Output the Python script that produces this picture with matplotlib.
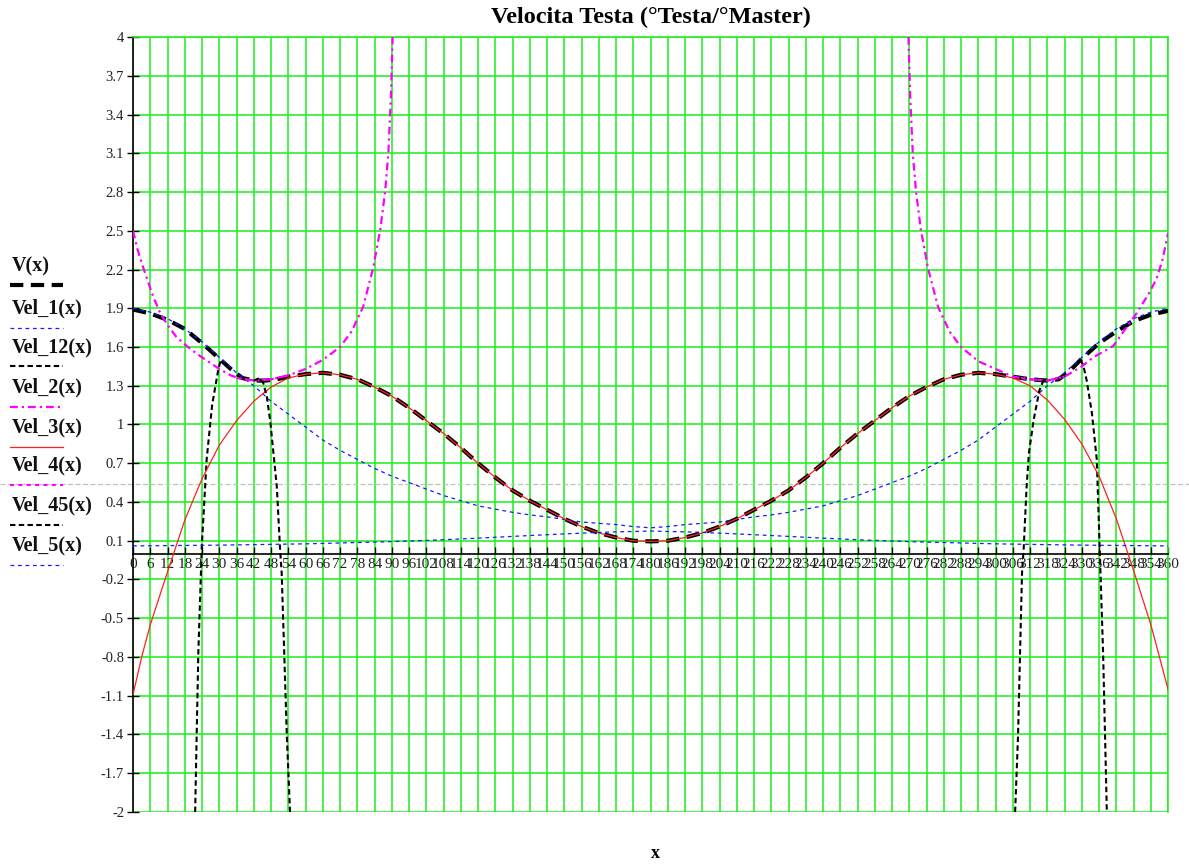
import numpy as np
import matplotlib
matplotlib.use("Agg")
import matplotlib.pyplot as plt
from matplotlib.lines import Line2D
import matplotlib.transforms as mtransforms

plt.rcParams['font.family'] = ['Liberation Serif', 'DejaVu Serif']

# ---- data ----
# V(x)
v_x = np.r_[[0, 6, 12, 18, 24, 30, 34, 38, 42, 46, 50, 54, 60], np.arange(66, 295, 6),
            [300, 306, 312, 318, 322, 326, 330, 336, 342, 348, 354, 360]]
v_y = [1.89, 1.86, 1.81, 1.74, 1.63, 1.51, 1.43, 1.36, 1.34, 1.34, 1.35, 1.37, 1.39,
       1.40, 1.385, 1.35, 1.29, 1.22, 1.13, 1.03, 0.93, 0.82, 0.70, 0.59, 0.49, 0.41, 0.34,
       0.27, 0.21, 0.16, 0.125, 0.10, 0.095,
       0.10, 0.125, 0.16, 0.21, 0.27, 0.34, 0.41, 0.49, 0.59, 0.70, 0.82, 0.93, 1.03, 1.13,
       1.22, 1.29, 1.35, 1.385, 1.40,
       1.39, 1.37, 1.35, 1.34, 1.35, 1.42, 1.51, 1.63, 1.72, 1.80, 1.85, 1.88]

# Vel_1(x)
vel1_x = np.arange(0, 361, 6)
vel1_y = [1.90, 1.87, 1.82, 1.74, 1.64, 1.52, 1.40, 1.30, 1.18, 1.08, 0.98, 0.88, 0.80,
          0.73, 0.66, 0.60, 0.55, 0.50, 0.45, 0.41, 0.37, 0.345, 0.32, 0.30, 0.285, 0.265,
          0.245, 0.235, 0.225, 0.21, 0.20,
          0.21, 0.225, 0.235, 0.245, 0.265, 0.285, 0.30, 0.32, 0.345, 0.37, 0.41, 0.45,
          0.50, 0.55, 0.60, 0.66, 0.73, 0.80, 0.88, 0.98, 1.08, 1.18, 1.30, 1.40, 1.52,
          1.64, 1.74, 1.82, 1.87, 1.90]

# Vel_12(x)
vel12_x = [21.6, 22.7, 23.9, 25.6, 27.5, 29.6, 30.5, np.nan,
           329.5, 330.5, 331.7, 333.5, 335.2, 336.2, 337.4, 338.7]
vel12_y = [-2.0, -0.77, 0.05, 0.73, 1.15, 1.42, 1.50, np.nan,
           1.50, 1.46, 1.34, 1.09, 0.73, 0.05, -0.77, -2.0]

# Vel_2(x)
vel2_x = [0, 1.5, 3, 5, 7, 9.5, 12, 15, 18, 22, 26, 30, 34, 38, 43, 48, 54, 60, 66, 72,
          76, 80, 83.5, 86, 87.7, 88.8, 89.7, 90.3, np.nan,
          269.7, 270.3, 271.2, 272.3, 274, 276.5, 280, 284, 288, 294, 300, 306, 312, 318,
          324, 330, 334, 338, 341, 344.5, 349, 353.5, 356, 358, 360]
vel2_y = [2.50, 2.36, 2.25, 2.12, 1.99, 1.86, 1.77, 1.68, 1.62, 1.55, 1.49, 1.43, 1.38,
          1.35, 1.34, 1.35, 1.38, 1.43, 1.50, 1.60, 1.72, 1.91, 2.21, 2.51, 2.81, 3.10,
          3.54, 4.0, np.nan,
          4.0, 3.54, 3.10, 2.81, 2.51, 2.21, 1.91, 1.72, 1.60, 1.49, 1.43, 1.37, 1.35,
          1.34, 1.37, 1.45, 1.52, 1.57, 1.61, 1.72, 1.86, 2.02, 2.13, 2.27, 2.48]

# Vel_3(x)
vel3_x = np.r_[[0, 3], np.arange(6, 355, 6), [357, 360]]
vel3_y = [-1.09, -0.80,
          -0.55, -0.14, 0.26, 0.58, 0.84, 1.03, 1.18, 1.29, 1.36, 1.39, 1.40, 1.385, 1.35,
          1.29, 1.22, 1.13, 1.03, 0.93, 0.82, 0.70, 0.59, 0.49, 0.41, 0.34, 0.27, 0.21,
          0.16, 0.125, 0.10, 0.095,
          0.10, 0.125, 0.16, 0.21, 0.27, 0.34, 0.41, 0.49, 0.59, 0.70, 0.82, 0.93, 1.03,
          1.13, 1.22, 1.29, 1.35, 1.385, 1.40, 1.39, 1.36, 1.30, 1.19, 1.04, 0.85, 0.60,
          0.27, -0.13, -0.55,
          -0.80, -1.05]

# Vel_4(x)
vel4_x = [36, 42, 48, 54, np.nan, 306, 312, 318, 324]
vel4_y = [1.36, 1.34, 1.35, 1.38, np.nan, 1.37, 1.35, 1.34, 1.37]

# Vel_45(x)
vel45_x = [42, 44, 45.3, 46.5, 47.7, 50, 51.1, 51.7, 53.5, 54.6, np.nan,
           306.8, 307.8, 309.2, 309.8, 310.8, 311.6, 313.2, 315.2, 316.6, 318]
vel45_y = [1.34, 1.36, 1.32, 1.22, 1.03, 0.52, 0.05, -0.15, -1.42, -2.0, np.nan,
           -2.0, -1.42, -0.15, 0.05, 0.52, 0.78, 1.03, 1.26, 1.34, 1.35]

# Vel_5(x)
vel5_x = [0, 30, 60, 90, 105, 120, 135, 150, 165, 180, 195, 210, 225, 240, 255, 270,
          300, 330, 360]
vel5_y = [0.060, 0.066, 0.076, 0.093, 0.105, 0.12, 0.137, 0.153, 0.167, 0.175, 0.167,
          0.153, 0.137, 0.12, 0.105, 0.093, 0.076, 0.066, 0.060]

x_ticks = np.arange(0, 361, 6)
y_ticks = [-2, -1.7, -1.4, -1.1, -0.8, -0.5, -0.2, 0.1, 0.4, 0.7, 1, 1.3, 1.6, 1.9,
           2.2, 2.5, 2.8, 3.1, 3.4, 3.7, 4]
marker_y = 0.54

labels = ["V(x)", "Vel_1(x)", "Vel_12(x)", "Vel_2(x)", "Vel_3(x)", "Vel_4(x)",
          "Vel_45(x)", "Vel_5(x)"]

# ---- styles ----
styles = [
    dict(color='black', lw=3.0, dashes=(3.2, 1.8)),
    dict(color='#1a1aff', lw=0.9, dashes=(3, 3)),
    dict(color='black', lw=1.5, dashes=(2.6, 1.6)),
    dict(color='#ff00ff', lw=1.6, dashes=(3.5, 1.8, 1, 1.8)),
    dict(color='#ff2020', lw=0.9),
    dict(color='#ff00ff', lw=1.5, dashes=(2, 2)),
    dict(color='black', lw=1.5, dashes=(2.6, 1.6)),
    dict(color='#1a1aff', lw=0.9, dashes=(3, 3)),
]
series = [(v_x, v_y), (vel1_x, vel1_y), (vel12_x, vel12_y), (vel2_x, vel2_y),
          (vel3_x, vel3_y), (vel4_x, vel4_y), (vel45_x, vel45_y), (vel5_x, vel5_y)]

fig = plt.figure(figsize=(11.89, 8.65), dpi=100)
ax = fig.add_axes([0.1119, 0.0613, 0.8705, 0.8959])

ax.set_xlim(0, 360)
ax.set_ylim(-2, 4)
ax.set_xticks(x_ticks)
ax.set_xticklabels([str(t) for t in x_ticks])
ax.set_yticks(y_ticks)
ax.set_yticklabels([f"{t:g}" for t in y_ticks])

ax.grid(True, color='#22ee22', lw=1.15)
ax.set_axisbelow(True)

ax.spines['bottom'].set_position(('data', 0))
ax.spines['bottom'].set_linewidth(1.2)
ax.spines['left'].set_linewidth(1.2)
for s in ('top', 'right'):
    ax.spines[s].set_color('#22ee22')
    ax.spines[s].set_linewidth(1.15)

ax.tick_params(axis='x', direction='in', length=5, width=1, pad=3, labelsize=11,
               labelcolor='#222222')
ax.tick_params(axis='y', direction='inout', length=9, width=1, pad=2, labelsize=10.5,
               labelcolor='#222222')

# draw V first, the rest on top
for (xs, ys), st in zip(series, styles):
    ax.plot(xs, ys, **st, zorder=3)

# grey marker line across the whole figure
trans = mtransforms.blended_transform_factory(fig.transFigure, ax.transData)
ax.plot([0, 1], [marker_y, marker_y], transform=trans, color='#c0c0c0', lw=0.9,
        dashes=(4, 2), clip_on=False, zorder=1)

# legend at left, drawn by hand like the original
leg_top = [266, 308, 347, 387, 427, 465, 505, 545]
for lab, st, yp in zip(labels, styles, leg_top):
    fig.text(12 / 1189, 1 - yp / 865, lab, fontsize=14.5, fontweight='bold',
             ha='left', va='center', color='#111111')
    yl = 1 - (yp + 19.5) / 865
    fig.add_artist(Line2D([10 / 1189, 63 / 1189], [yl, yl], transform=fig.transFigure,
                          **st))

fig.text(651 / 1189, 1 - 17 / 865, "Velocita Testa (°Testa/°Master)", fontsize=17.5,
         fontweight='bold', ha='center', va='center')
fig.text(655 / 1189, 1 - 853 / 865, "x", fontsize=13, fontweight='bold',
         ha='center', va='center')

fig.savefig("out.png", dpi=100)
